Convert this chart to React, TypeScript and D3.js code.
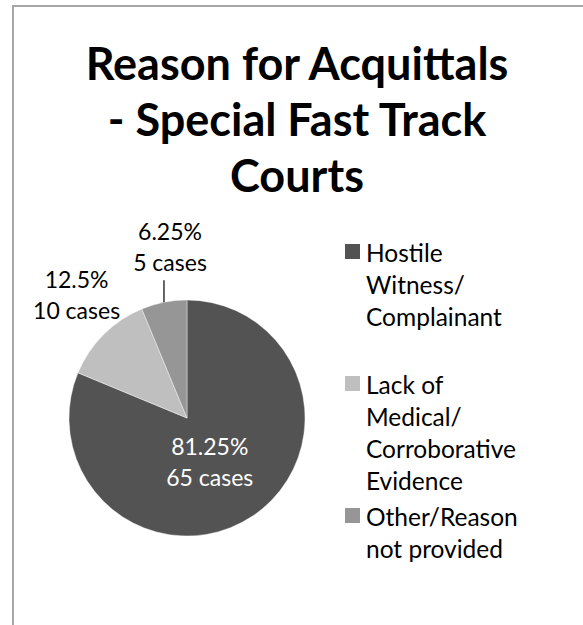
import React, { useEffect, useRef } from "react";
import * as d3 from "d3";

// chart data
const categories = [
  "Hostile Witness/ Complainant",
  "Lack of Medical/ Corroborative Evidence",
  "Other/Reason not provided",
];
const caseCounts = [65, 10, 5];
const percentLabels = ["81.25%", "12.5%", "6.25%"];
const legendLines = [
  ["Hostile", "Witness/", "Complainant"],
  ["Lack of", "Medical/", "Corroborative", "Evidence"],
  ["Other/Reason", "not provided"],
];
const titleLines = ["Reason for Acquittals", "- Special Fast Track", "Courts"];
const sliceColors = ["#535353", "#bfbfbf", "#969696"];

const WIDTH = 583;
const HEIGHT = 625;
const FONT = "Lato, Calibri, 'Noto Sans', sans-serif";

export default function App() {
  const svgRef = useRef<SVGSVGElement>(null);

  useEffect(() => {
    if (!svgRef.current) return;
    const svg = d3.select(svgRef.current);
    svg.selectAll("*").remove();

    // chart area border (runs off the right / bottom edges)
    svg
      .append("rect")
      .attr("x", 13)
      .attr("y", 6)
      .attr("width", WIDTH)
      .attr("height", HEIGHT)
      .attr("fill", "#fff")
      .attr("stroke", "#a6a6a6")
      .attr("stroke-width", 2);

    // title
    const title = svg
      .append("text")
      .attr("font-family", FONT)
      .attr("font-weight", "bold")
      .attr("font-size", 45)
      .attr("fill", "#000")
      .attr("text-anchor", "middle");
    titleLines.forEach((line, i) => {
      title
        .append("tspan")
        .attr("x", 297)
        .attr("y", 80 + i * 56)
        .text(line);
    });

    // pie
    const cx = 187;
    const cy = 418;
    const radius = 118;
    const pie = d3
      .pie<number>()
      .sort(null)
      .value((d) => d);
    const arcs = pie(caseCounts);
    const arc = d3.arc<d3.PieArcDatum<number>>().innerRadius(0).outerRadius(radius);
    const edgeArc = d3
      .arc<d3.PieArcDatum<number>>()
      .innerRadius(radius)
      .outerRadius(radius);

    const g = svg.append("g").attr("transform", `translate(${cx},${cy})`);
    g.selectAll("path.slice")
      .data(arcs)
      .join("path")
      .attr("class", "slice")
      .attr("d", arc)
      .attr("fill", (d, i) => sliceColors[i])
      .attr("stroke", "#ffffff")
      .attr("stroke-width", 0.4);

    // data labels
    const labelLineH = 31;
    arcs.forEach((d, i) => {
      let x: number, y1: number, color: string;
      if (i === 0) {
        const [px, py] = arc.centroid(d);
        x = px - 10;
        y1 = py - 12;
        color = "#ffffff";
      } else {
        const [ex, ey] = edgeArc.centroid(d);
        if (i === 2) {
          // leader line straight up from the slice edge
          g.append("line")
            .attr("x1", ex)
            .attr("y1", ey)
            .attr("x2", ex)
            .attr("y2", ey - 22)
            .attr("stroke", "#000")
            .attr("stroke-width", 1.2);
          x = ex + 6;
          y1 = ey - 62;
        } else {
          x = ex - 27;
          y1 = ey - 47;
        }
        color = "#000000";
      }
      const t = g
        .append("text")
        .attr("font-family", FONT)
        .attr("font-size", 23)
        .attr("fill", color)
        .attr("text-anchor", "middle");
      [percentLabels[i], `${caseCounts[i]} cases`].forEach((s, j) => {
        t.append("tspan")
          .attr("x", x)
          .attr("y", y1 + j * labelLineH)
          .text(s);
      });
    });

    // legend
    const maxLines = d3.max(legendLines, (l) => l.length) || 1;
    const legendLineH = 32;
    const slot = maxLines * legendLineH + 4;
    const legendY = d3
      .scaleLinear()
      .domain([0, 1])
      .range([262, 262 + slot]);
    const legend = svg.append("g");
    categories.forEach((c, i) => {
      const base = legendY(i);
      legend
        .append("rect")
        .attr("x", 345)
        .attr("y", base - 18)
        .attr("width", 15)
        .attr("height", 15)
        .attr("fill", sliceColors[i]);
      const t = legend
        .append("text")
        .attr("font-family", FONT)
        .attr("font-size", 24.5)
        .attr("fill", "#000");
      legendLines[i].forEach((line, j) => {
        t.append("tspan")
          .attr("x", 366)
          .attr("y", base + j * legendLineH)
          .text(line);
      });
      t.append("title").text(c);
    });
  }, []);

  return (
    <svg
      ref={svgRef}
      width={WIDTH}
      height={HEIGHT}
      style={{ position: "absolute", left: 0, top: 0, display: "block" }}
    ></svg>
  );
}
